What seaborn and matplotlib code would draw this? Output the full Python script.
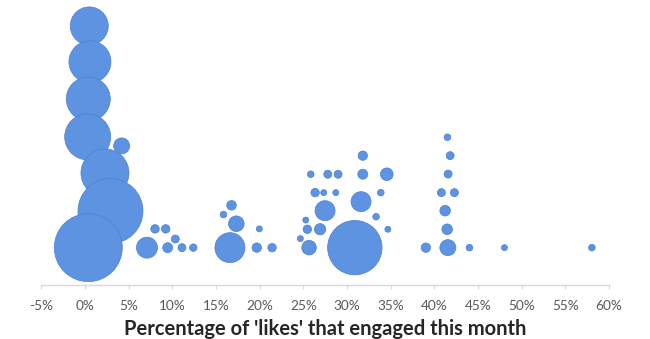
import matplotlib
matplotlib.use("Agg")
import matplotlib.pyplot as plt
import seaborn as sns
import pandas as pd
import numpy as np

# percentage of likes that engaged (x), vertical stacking position (y), bubble value (area)
pct = [0.49, 0.57, 0.38, 0.31, 4.2, 2.29, 2.92, 0.38, 7.1, 8.02, 9.24, 10.34, 9.47, 11.11, 12.4,
       16.6, 17.33, 16.78, 15.86, 19.97, 19.67, 21.42,
       31.81, 25.85, 27.8, 28.98, 31.81, 34.56, 26.35, 27.34, 28.72, 33.87, 31.61, 27.49, 25.28,
       33.33, 25.46, 26.92, 34.68, 24.66, 25.66, 30.9,
       41.5, 41.81, 41.58, 40.81, 42.3, 41.24, 41.47, 39.03, 41.55, 44.02, 48.03, 58.04]
row = [12.05, 10.1, 8.08, 6.02, 5.53, 4.06, 1.99, 0.0, 0.0, 1.02, 1.02, 0.47, 0.0, 0.0, 0.0,
       0.0, 1.3, 2.3, 1.8, 1.02, 0.0, 0.0,
       5.0, 3.99, 3.99, 3.99, 3.99, 3.99, 2.99, 2.99, 2.99, 2.99, 2.5, 2.01, 1.5,
       1.68, 1.0, 1.0, 1.0, 0.49, 0.0, 0.0,
       6.0, 5.0, 4.0, 2.99, 2.99, 2.01, 1.0, 0.0, 0.0, 0.0, 0.0, 0.0]
value = [361, 441, 484, 529, 64, 576, 1056, 1156, 110, 18, 18, 16, 25, 16, 14,
         225, 61, 23, 11, 9, 22, 18,
         22, 11, 16, 16, 25, 40, 18, 9, 9, 11, 100, 100, 9,
         11, 18, 32, 9, 9, 53, 740,
         11, 16, 16, 16, 16, 28, 28, 22, 64, 11, 9, 11]

xticks = list(range(-5, 61, 5))
xlabels = [f"{t}%" for t in xticks]
xtitle = "Percentage of 'likes' that engaged this month"

df = pd.DataFrame({"pct": pct, "row": row, "value": value})

sns.set_style("white")
plt.rcParams["font.family"] = ["Lato", "DejaVu Sans"]

DPI = 100
fig = plt.figure(figsize=(6.5, 3.39), dpi=DPI)
ax = fig.add_axes([41.3 / 650, 1 - 285 / 339, 567.7 / 650, 285 / 339])

# bubble area proportional to value; radius px = sqrt(value)
vmax = max(value)
max_diam_pt = 2 * np.sqrt(vmax) * 72 / DPI
sns.scatterplot(data=df, x="pct", y="row", size="value",
                sizes=(0, max_diam_pt ** 2), size_norm=(0, vmax),
                color="#5e93e2", edgecolor="#4a80d3", linewidth=0.5,
                alpha=1.0, legend=False, ax=ax, clip_on=False, zorder=3)

ax.set_xlim(-5, 60)
ax.set_ylim(-2.03, 13.46)
ax.set_xticks(xticks)
ax.set_xticklabels(xlabels, fontsize=9.8, color="#595959")
ax.set_yticks([])
ax.set_ylabel("")
ax.set_xlabel(xtitle, fontsize=14.5, fontweight="bold", color="#262626", labelpad=5)
for s in ["top", "right", "left"]:
    ax.spines[s].set_visible(False)
ax.spines["bottom"].set_color("#d9d9d9")
ax.spines["bottom"].set_linewidth(1)
ax.tick_params(axis="x", direction="out", length=3, color="#d9d9d9", pad=8, bottom=True)
ax.patch.set_alpha(0)

fig.savefig("out.png", dpi=DPI)
